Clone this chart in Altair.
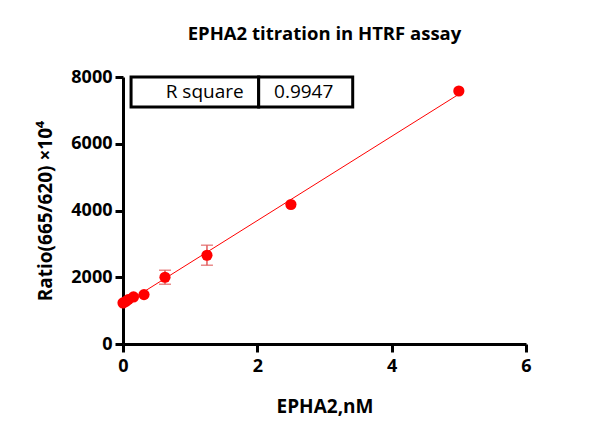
import altair as alt
import pandas as pd

conc = [0, 0.039, 0.078, 0.156, 0.3125, 0.625, 1.25, 2.5, 5]
ratio = [1230, 1270, 1330, 1410, 1480, 2000, 2660, 4180, 7580]
err = [0, 0, 0, 0, 0, 210, 300, 0, 0]

table_x1 = [0.12, 2.02]
table_x2 = [2.02, 3.42]
table_text = ["R square", "0.9947"]

df = pd.DataFrame({"x": conc, "y": ratio, "lo": [r - e for r, e in zip(ratio, err)],
                   "hi": [r + e for r, e in zip(ratio, err)], "e": err})
dfe = df[df["e"] > 0]
tab = pd.DataFrame({"x1": table_x1, "x2": table_x2, "t": table_text,
                    "y1": [8000, 8000], "y2": [7100, 7100]})

FONT = "Open Sans"
xs = alt.Scale(domain=[0, 6], nice=False, padding=0)
ys = alt.Scale(domain=[0, 8000], nice=False, padding=0)
xax = alt.Axis(values=[0, 2, 4, 6], format="d", title="EPHA2,nM", labelPadding=5, titlePadding=22)
yax = alt.Axis(values=[0, 2000, 4000, 6000, 8000], format="d", title="Ratio(665/620) ×10⁴", titlePadding=15)

base = alt.Chart(df)
line = base.transform_regression("x", "y", extent=[0, 5]).mark_line(color="#ff0000", strokeWidth=1).encode(
    x=alt.X("x:Q", scale=xs, axis=xax), y=alt.Y("y:Q", scale=ys, axis=yax))
rules = alt.Chart(dfe).mark_rule(color="#e05a5a", strokeWidth=1.5).encode(
    x="x:Q", y="lo:Q", y2="hi:Q")
capl = alt.Chart(dfe).mark_tick(color="#e05a5a", orient="horizontal", size=12, thickness=1.5).encode(
    x="x:Q", y="lo:Q")
caph = alt.Chart(dfe).mark_tick(color="#e05a5a", orient="horizontal", size=12, thickness=1.5).encode(
    x="x:Q", y="hi:Q")
pts = base.mark_circle(color="#ff0000", size=125, opacity=1).encode(x="x:Q", y="y:Q")

boxes = alt.Chart(tab).mark_rect(fill="white", stroke="black", strokeWidth=3).encode(
    x="x1:Q", x2="x2:Q", y="y1:Q", y2="y2:Q")
t1 = alt.Chart(tab).transform_filter("datum.t == 'R square'").mark_text(
    align="right", baseline="middle", fontSize=19, font=FONT, dx=-15, color="black").encode(
    x="x2:Q", y=alt.Y("yc:Q"), text="t:N").transform_calculate(yc="(datum.y1 + datum.y2) / 2")
t2 = alt.Chart(tab).transform_filter("datum.t != 'R square'").mark_text(
    align="center", baseline="middle", fontSize=19, font=FONT, color="black", dx=-2).encode(
    x="xc:Q", y="yc:Q", text="t:N").transform_calculate(
    yc="(datum.y1 + datum.y2) / 2", xc="(datum.x1 + datum.x2) / 2")

chart = alt.layer(line, rules, capl, caph, pts, boxes, t1, t2).properties(
    width=403, height=267,
    title=alt.TitleParams("EPHA2 titration in HTRF assay", font=FONT, fontSize=18.5, fontWeight="bold",
                          offset=25, anchor="middle", color="black"),
    autosize=alt.AutoSizeParams(type="none"),
    padding={"left": 115, "top": 69, "right": 60, "bottom": 80},
).configure_view(stroke=None).configure_axis(
    grid=False, domainColor="black", domainWidth=3, tickColor="black", tickWidth=3, tickSize=8,
    labelFont=FONT, labelFontSize=18, labelFontWeight="bold", labelColor="black", labelPadding=3,
    labelFlush=False, labelOverlap=False,
    titleFont=FONT, titleFontSize=19, titleFontWeight="bold", titleColor="black",
)

chart.save("out.html", embed_options={"renderer": "svg", "actions": False})
